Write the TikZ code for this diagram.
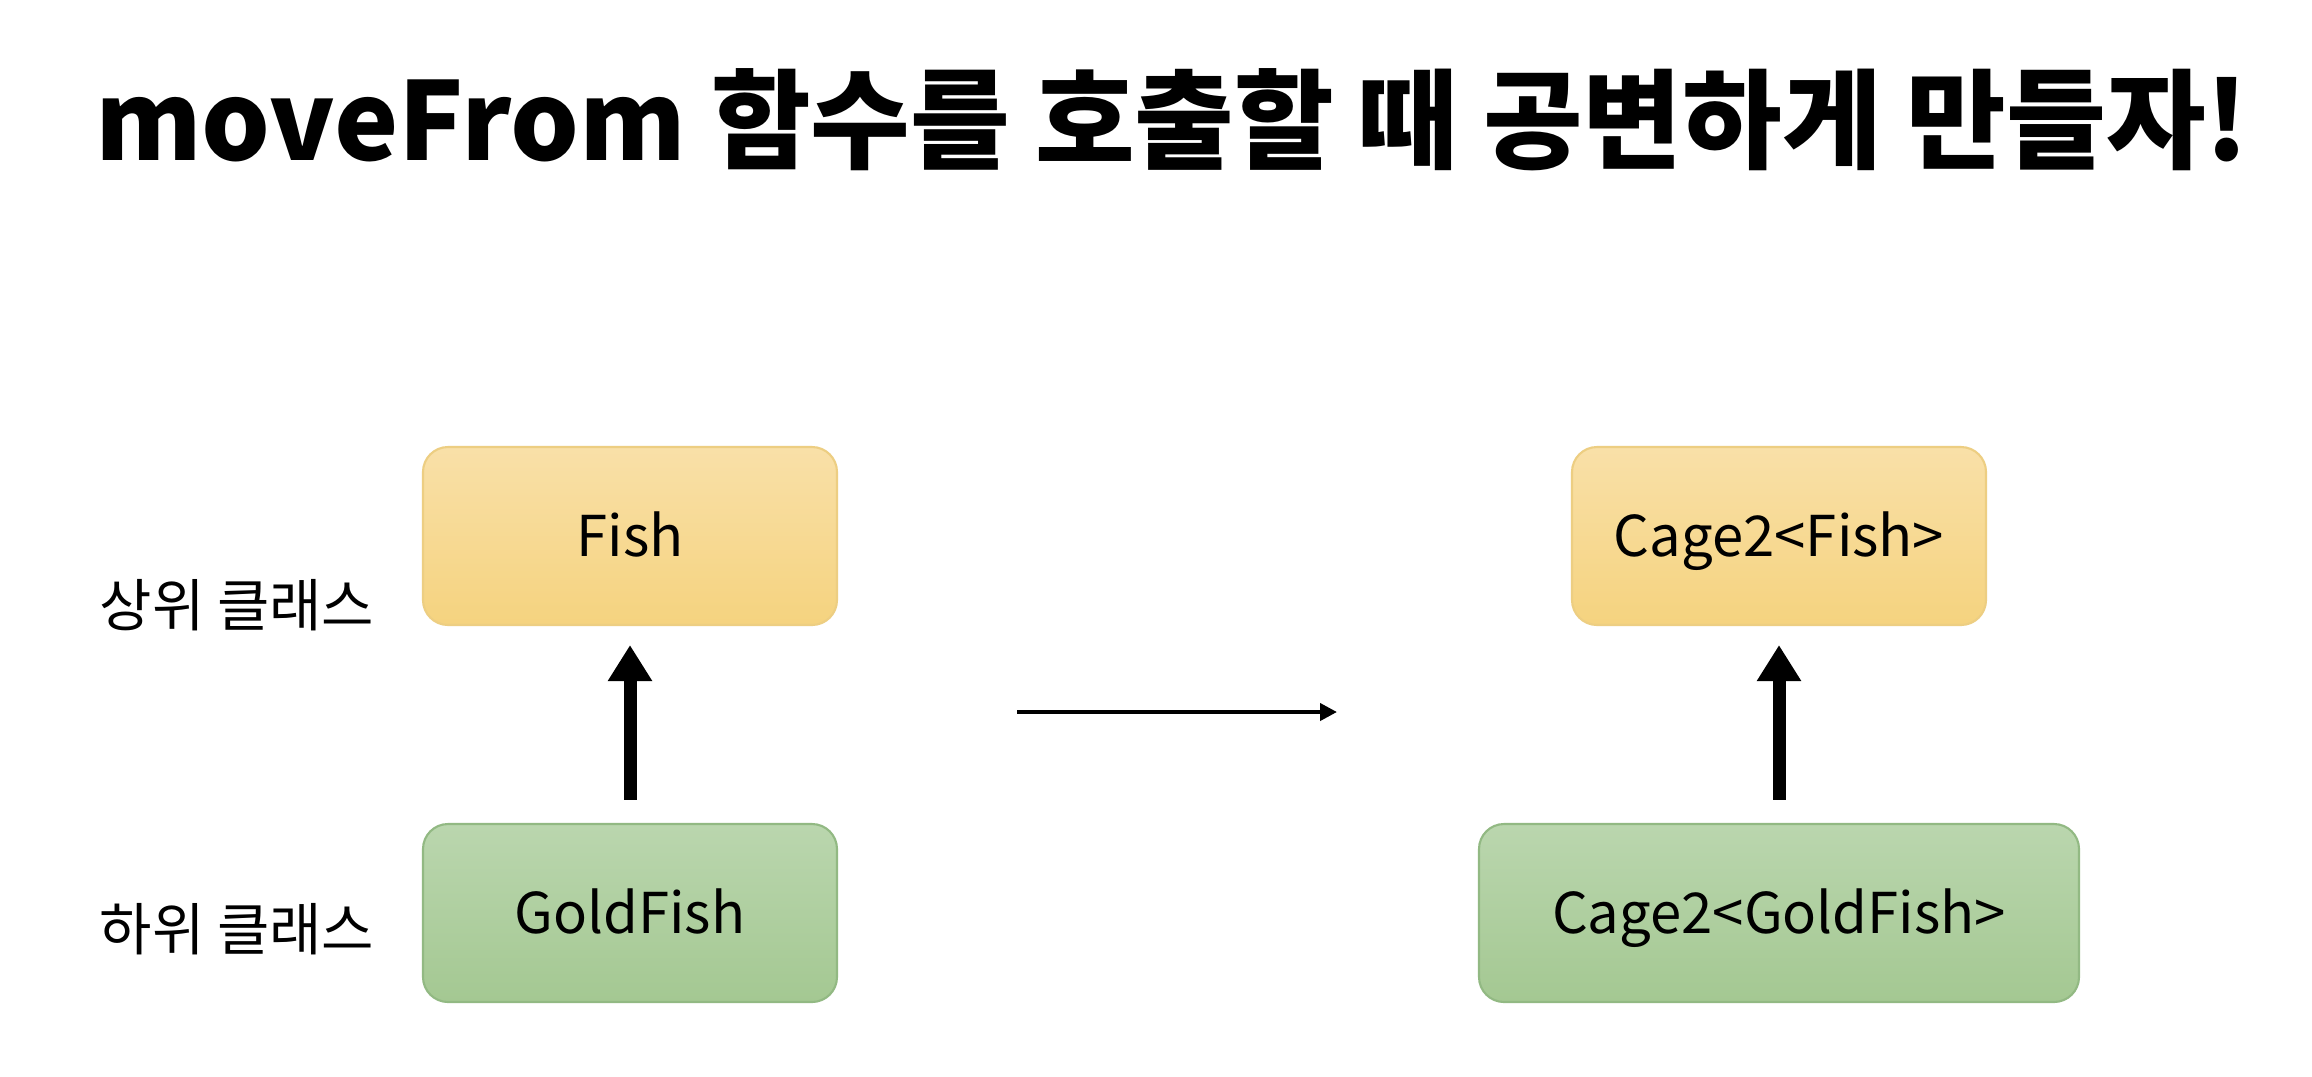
\documentclass[tikz,border=0pt]{standalone}
\usepackage{fontspec}
\setmainfont{Noto Sans CJK KR}
\newfontfamily\titlefont{Noto Sans CJK KR}
\usetikzlibrary{arrows.meta}
\definecolor{yellowtop}{HTML}{F9E0A8}
\definecolor{yellowbot}{HTML}{F5D37F}
\definecolor{yellowline}{HTML}{EDCE82}
\definecolor{greentop}{HTML}{BAD6AE}
\definecolor{greenbot}{HTML}{A4C892}
\definecolor{greenline}{HTML}{92B983}
\tikzset{
  box/.style={rounded corners=0.25cm, minimum width=4.14cm, minimum height=1.78cm,
    font=\fontsize{16}{19}\selectfont, line width=0.6pt, inner sep=0pt,
    text height=11.7pt, text depth=0pt},
  upperbox/.style={box, draw=yellowline, top color=yellowtop, bottom color=yellowbot},
  lowerbox/.style={box, draw=greenline, top color=greentop, bottom color=greenbot},
  inherit/.style={-{Triangle[length=0.36cm,width=0.42cm]}, line width=0.13cm},
  transformarrow/.style={-{Triangle[length=0.17cm,width=0.17cm]}, line width=0.04cm},
  side/.style={font=\fontsize{16.2}{19}\selectfont, anchor=west, inner sep=0pt},
}
\begin{document}
\begin{tikzpicture}
\useasboundingbox (0,0) rectangle (23.12,-10.76);
\fill[white] (0,0) rectangle (23.12,-10.76);
\node[inner sep=0pt] (title) at (11.72,-1.20) {\resizebox{21.53cm}{!}{\titlefont\bfseries moveFrom 함수를 호출할 때 공변하게 만들자!}};

\node[upperbox] (fish) at (6.30,-5.36) {Fish};
\node[lowerbox] (gold) at (6.30,-9.13) {GoldFish};
\node[upperbox] (cfish) at (17.79,-5.36) {Cage2<Fish>};
\node[lowerbox, minimum width=6.00cm] (cgold) at (17.79,-9.13) {Cage2<GoldFish>};

\node[side] (sup) at (0.99,-6.05) {상위 클래스};
\node[side] (sub) at (0.99,-9.29) {하위 클래스};

\draw[inherit] ([yshift=0.23cm]gold.north) -- ([yshift=-0.19cm]fish.south);
\draw[inherit] ([yshift=0.23cm]cgold.north) -- ([yshift=-0.19cm]cfish.south);

\coordinate (h1) at (10.17,-7.12);
\coordinate (h2) at (13.37,-7.12);
\draw[transformarrow] (h1) -- (h2);
\end{tikzpicture}
\end{document}
